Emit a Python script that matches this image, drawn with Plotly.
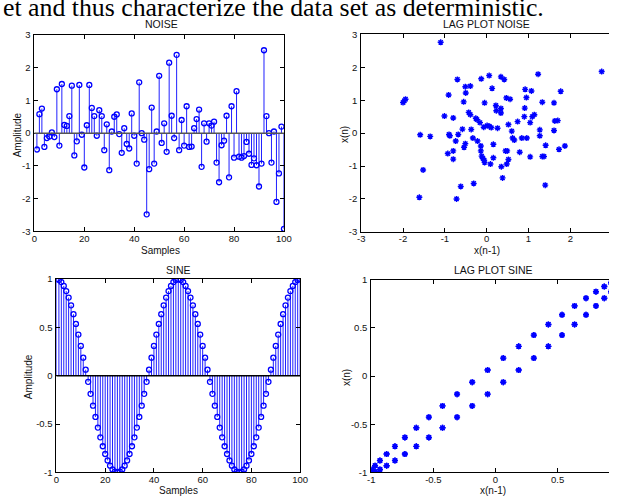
import plotly.graph_objects as go

W, H = 617, 497

# ---------------- data ----------------
noise_n = list(range(1, 101))
noise_vals = [-0.50, 0.58, 0.75, -0.42, -0.15, -0.10, 0.02, -0.12, 1.34, -0.38,
              1.50, 0.25, 0.22, 0.52, 1.45, -0.68, -0.25, 1.47, -0.05, -1.05,
              0.24, 1.47, 0.77, 0.52, -0.08, 0.70, 0.52, -0.52, 0.27, -1.13,
              0.05, 0.50, 0.57, -0.03, -0.60, 0.15, -0.33, -0.47, 0.60, -0.08,
              -0.93, 1.55, 0.00, -0.20, -2.48, -1.10, 0.78, -0.93, 0.05, 1.75,
              -0.30, 0.30, -0.57, 2.15, 0.53, -0.15, 2.39, -0.52, 0.40, -0.38,
              0.82, -0.42, -0.41, 0.15, 0.43, 0.72, -1.03, 0.30, -0.26, 0.30,
              0.23, 0.35, -0.90, -1.50, -0.37, -0.23, 0.53, -1.35, 0.82, -0.75,
              1.28, -0.72, -0.75, -0.70, -0.27, -0.63, -0.97, -0.77, -0.98, -1.63,
              -0.93, 2.53, 0.52, 0.00, -0.90, 0.05, -2.10, -1.23, 0.20, -2.92]

lag_noise_x = [-1.10, -2.00, -1.97, -1.94, -1.01, -1.59, -1.35, -1.52, -1.61,
               -0.70, -0.51, -0.39, -0.13, 0.06, 0.34, 0.42, 0.13, -0.91, -0.50,
               -0.55, -0.05, 0.22, 0.23, 0.34, 0.34, 0.47, 0.56, 0.92, 0.95,
               0.91, 0.90, 0.74,
               -0.80, -0.43, -0.39, -0.26, -0.23, -0.16, -0.07, 0.01, 0.06, 0.11, 0.26,
               0.52, 0.60, 0.62, 0.66, 0.84, 0.96, 0.79,
               -0.58, -0.37, -0.90, -0.88, -0.68, -0.74, -0.33, -0.22, -0.51, -0.54,
               -0.93, -0.80, -0.80, -0.14, -0.14, 0.16, -0.12, -0.09, -0.06, -0.05,
               0.09, 0.16, 0.35, 0.48, 0.52, 0.45, 0.49, 0.38, -0.62, -0.31, -0.72,
               1.23, 2.75, 1.07, 1.77, 1.33, 1.61, 1.09, 1.14, 1.04, 1.63, 1.70,
               1.27, 1.61, 1.27, 1.41, 1.87, 1.73, 1.04, 1.33, 1.37, 1.40]
lag_noise_y = [2.76, 0.93, 0.98, 1.03, 0.52, -0.05, -0.10, -1.12, -1.95,
               1.63, 1.41, 1.43, 1.65, 1.75, 1.71, 1.63, 1.36, 1.16, 1.22,
               0.95, 0.92, 0.84, 0.68, 0.75, 0.61, 1.07, 1.03, 1.33, 1.08,
               0.76, 0.50, 0.35,
               0.46, 0.63, 0.56, 0.45, 0.41, 0.32, 0.18, 0.23, 0.21, 0.17, 0.15,
               0.26, 0.06, -0.15, -0.21, -0.15, -0.15, -0.58,
               0.12, 0.11, -0.04, -0.08, -0.04, -0.24, -0.15, -0.24, -0.32, -0.43,
               -0.62, -0.54, -0.79, -0.39, -0.54, -0.34, -0.70, -0.77, -0.82, -0.89,
               -0.94, -0.75, -1.02, -0.94, -0.80, -0.54, -0.54, -1.36, -1.62, -1.53, -2.00,
               1.79, 1.87, 1.28, 1.27, 0.94, 0.92, 0.50, 0.56, 0.32, 0.37, 0.38,
               0.10, 0.08, -0.08, -0.37, -0.39, -0.49, -0.72, -0.71, -0.71, -1.58]

sine_n = list(range(0, 101))
sine_vals = [1.000, 0.992, 0.969, 0.930, 0.876, 0.809, 0.729, 0.637, 0.536, 0.426,
             0.309, 0.187, 0.063, -0.063, -0.187, -0.309, -0.426, -0.536, -0.637, -0.729,
             -0.809, -0.876, -0.930, -0.969, -0.992, -1.000, -0.992, -0.969, -0.930, -0.876,
             -0.809, -0.729, -0.637, -0.536, -0.426, -0.309, -0.187, -0.063, 0.063, 0.187,
             0.309, 0.426, 0.536, 0.637, 0.729, 0.809, 0.876, 0.930, 0.969, 0.992,
             1.000, 0.992, 0.969, 0.930, 0.876, 0.809, 0.729, 0.637, 0.536, 0.426,
             0.309, 0.187, 0.063, -0.063, -0.187, -0.309, -0.426, -0.536, -0.637, -0.729,
             -0.809, -0.876, -0.930, -0.969, -0.992, -1.000, -0.992, -0.969, -0.930, -0.876,
             -0.809, -0.729, -0.637, -0.536, -0.426, -0.309, -0.187, -0.063, 0.063, 0.187,
             0.309, 0.426, 0.536, 0.637, 0.729, 0.809, 0.876, 0.930, 0.969, 0.992, 1.000]
lag_sine_x = sine_vals[:-1]
lag_sine_y = sine_vals[1:]

noise_xticks = [0, 20, 40, 60, 80, 100]
noise_yticks = [-3, -2, -1, 0, 1, 2, 3]
lagn_xticks = [-3, -2, -1, 0, 1, 2, 3]
lagn_yticks = [-3, -2, -1, 0, 1, 2, 3]
sine_xticks = [0, 20, 40, 60, 80, 100]
sine_yticks = [-1, -0.5, 0, 0.5, 1]
lags_xticks = [-1, -0.5, 0, 0.5, 1]
lags_yticks = [-1, -0.5, 0, 0.5, 1]

titles = ["NOISE", "LAG PLOT NOISE", "SINE", "LAG PLOT SINE"]
top_text = "et and thus characterize the data set as deterministic."

# ---------------- style ----------------
BLUE = "#0000ff"
SANS = "Liberation Sans, Arial, sans-serif"
TICKF = dict(family=SANS, size=9.5, color="#111111")


def lbl(v):
    return "%g" % v


def px_dom_x(l, r):
    return [l / W, r / W]


def px_dom_y(t, b):
    return [1 - b / H, 1 - t / H]


def axis(dom, rng, ticks, mirror, standoff=1):
    return dict(domain=dom, range=rng, tickvals=ticks, ticktext=[lbl(t) for t in ticks],
                ticks="inside", ticklen=4, tickwidth=1, tickcolor="black",
                showline=True, linecolor="black", linewidth=1, mirror=mirror,
                showgrid=False, zeroline=False, tickfont=TICKF, ticklabelstandoff=standoff)


def stems(xs, vs):
    sx, sy = [], []
    for x, v in zip(xs, vs):
        sx += [x, x, None]
        sy += [0, v, None]
    return sx, sy


fig = go.Figure()

# Noise stem
sx, sy = stems(noise_n, noise_vals)
fig.add_trace(go.Scatter(x=sx, y=sy, mode="lines", line=dict(color="#2020ff", width=1),
                         xaxis="x", yaxis="y", hoverinfo="skip"))
fig.add_trace(go.Scatter(x=noise_n, y=noise_vals, mode="markers",
                         marker=dict(symbol="circle-open", size=5, color=BLUE, line=dict(width=1.3)),
                         xaxis="x", yaxis="y"))
# Lag noise
fig.add_trace(go.Scatter(x=lag_noise_x, y=lag_noise_y, mode="markers",
                         marker=dict(symbol="asterisk-open", size=5, color=BLUE, line=dict(width=1.4, color=BLUE)),
                         xaxis="x2", yaxis="y2"))
# Sine stem
sx, sy = stems(sine_n, sine_vals)
fig.add_trace(go.Scatter(x=sx, y=sy, mode="lines", line=dict(color="#2020ff", width=1),
                         xaxis="x3", yaxis="y3", hoverinfo="skip"))
fig.add_trace(go.Scatter(x=sine_n, y=sine_vals, mode="markers",
                         marker=dict(symbol="circle-open", size=5, color=BLUE, line=dict(width=1.3)),
                         xaxis="x3", yaxis="y3"))
# Lag sine
fig.add_trace(go.Scatter(x=lag_sine_x, y=lag_sine_y, mode="markers",
                         marker=dict(symbol="asterisk-open", size=5, color=BLUE, line=dict(width=1.4, color=BLUE)),
                         xaxis="x4", yaxis="y4"))

fig.update_layout(
    width=W, height=H, margin=dict(l=0, r=0, t=0, b=0),
    paper_bgcolor="white", plot_bgcolor="white", showlegend=False,
    xaxis=axis(px_dom_x(31, 285.5), [0, 100], noise_xticks, "ticks", -2),
    yaxis=axis(px_dom_y(29.5, 230.5), [-3, 3], noise_yticks, "ticks"),
    xaxis2=axis(px_dom_x(364.3, 617), [-3, -3 + (617 - 364.3) / 42.65], lagn_xticks, "ticks", -2),
    yaxis2=axis(px_dom_y(29, 231), [-3, 3], lagn_yticks, False),
    xaxis3=axis(px_dom_x(53.5, 302), [0, 100], sine_xticks, "ticks", -2),
    yaxis3=axis(px_dom_y(279.3, 477), [-1, 1], sine_yticks, "ticks"),
    xaxis4=axis(px_dom_x(374.5, 617), [-1, -1 + (617 - 374.5) / 126.7], lags_xticks, "ticks", -2),
    yaxis4=axis(px_dom_y(280, 477), [-1, 1], lags_yticks, False),
)
fig.update_layout(xaxis2=dict(anchor="y2"), yaxis2=dict(anchor="x2"),
                  xaxis3=dict(anchor="y3"), yaxis3=dict(anchor="x3"),
                  xaxis4=dict(anchor="y4"), yaxis4=dict(anchor="x4"))

# stem baselines
fig.add_shape(type="line", xref="x domain", yref="y", x0=0, x1=1, y0=0, y1=0,
              line=dict(color="#555555", width=1.5))
fig.add_shape(type="line", xref="x3 domain", yref="y3", x0=0, x1=1, y0=0, y1=0,
              line=dict(color="black", width=1.5))


def ann(text, xp, yp, size=10, angle=0, family=SANS, color="#111111", xanchor="center", yanchor="middle"):
    fig.add_annotation(text=text, xref="paper", yref="paper", x=xp / W, y=1 - yp / H,
                       showarrow=False, textangle=angle, xanchor=xanchor, yanchor=yanchor,
                       font=dict(family=family, size=size, color=color))


ann(titles[0], 161, 18, size=10.5)
ann(titles[1], 491.7, 18, size=10.5)
ann(titles[2], 178.3, 270, size=10.5)
ann(titles[3], 499.3, 270, size=10.5)

ann("Amplitude", 13.5, 132, angle=-90)
ann("Amplitude", 25, 379, angle=-90)
ann("x(n)", 346.7, 131, angle=-90)
ann("x(n)", 349.3, 380, angle=-90)
ann("Samples", 160, 250)
ann("x(n-1)", 493, 250)
ann("Samples", 178, 495)
ann("x(n-1)", 499, 495)

ann(top_text, -3, 18.5, size=25.8, family="Liberation Serif, Times New Roman, serif",
    color="black", xanchor="left", yanchor="bottom")

fig.write_html("out.html",
               config={"displayModeBar": False},
               post_script="document.body.style.margin='0px';"
                           "document.body.style.padding='0px';"
                           "document.body.style.overflow='hidden';"
                           "document.documentElement.style.overflow='hidden';")
